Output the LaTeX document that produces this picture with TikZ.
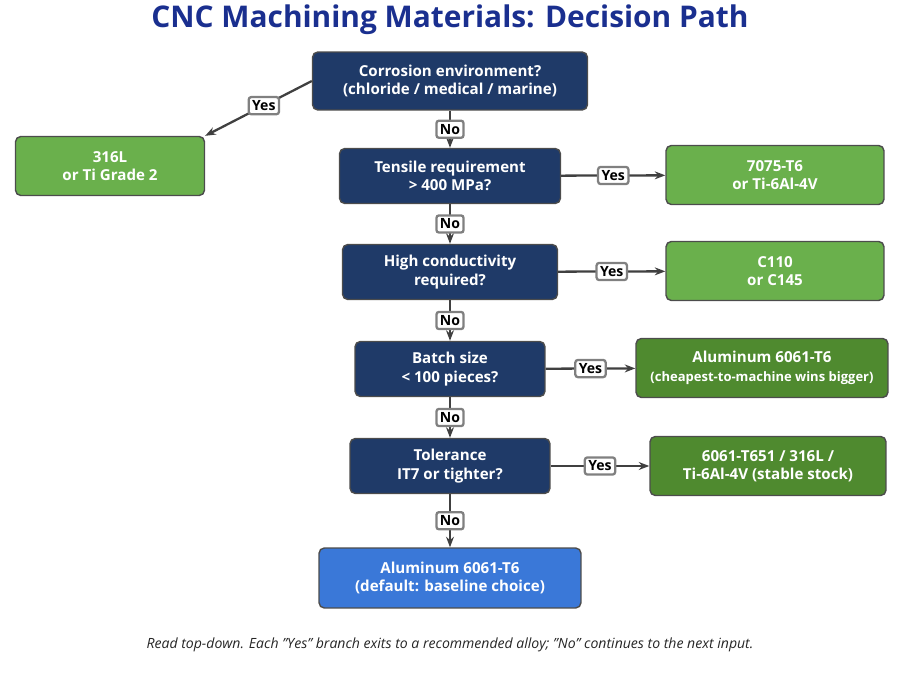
\documentclass[tikz,border=0pt]{standalone}
\usepackage{fontspec}
\setmainfont{Open Sans}
\usepackage{tikz}
\usetikzlibrary{positioning,arrows.meta}
\definecolor{navy}{HTML}{1F3A68}
\definecolor{titleblue}{HTML}{1A2F8F}
\definecolor{lightgreen}{HTML}{6AB04C}
\definecolor{darkgreen}{HTML}{4F8A2F}
\definecolor{defblue}{HTML}{3A78D8}

\begin{document}
\begin{tikzpicture}[x=0.02cm,y=-0.02cm,
    box/.style={draw=black!70, rounded corners=3pt, text=white, font=\fontsize{8.6}{10.5}\selectfont\bfseries, align=center, inner sep=2pt, line width=0.8pt},
    question/.style={box, fill=navy, minimum height=1.1cm},
    alloy/.style={box, fill=lightgreen, minimum height=1.18cm},
    alloyd/.style={box, fill=darkgreen, minimum height=1.18cm},
    tag/.style={draw=black!50, fill=white, rounded corners=1.5pt, font=\fontsize{8}{9}\selectfont\bfseries, inner sep=2pt},
    flow/.style={-{Stealth[length=6pt]}, line width=1.3pt, draw=black!75}]
    \useasboundingbox (0,0) rectangle (900,675);
    \node[font=\fontsize{17}{20}\selectfont\bfseries, text=titleblue] (title) at (450,20) {CNC Machining Materials: Decision Path};

    % decision column
    \node[question, minimum width=5.5cm, minimum height=1.16cm] (corr) at (450,81) {Corrosion environment?\\(chloride / medical / marine)};
    \node[question, minimum width=4.42cm] (tens) at (450,176) {Tensile requirement\\> 400 MPa?};
    \node[question, minimum width=4.3cm] (cond) at (450,272) {High conductivity\\required?};
    \node[question, minimum width=3.8cm] (batch) at (450,369) {Batch size\\< 100 pieces?};
    \node[question, minimum width=4cm] (tol) at (450,466) {Tolerance\\IT7 or tighter?};
    \node[box, fill=defblue, minimum width=5.24cm, minimum height=1.2cm] (dflt) at (450,578) {Aluminum 6061-T6\\(default: baseline choice)};

    % outcomes
    \node[alloy, minimum width=3.78cm] (ss) at (110,166) {316L\\or Ti Grade 2};
    \node[alloy, minimum width=4.36cm] (hs) at (775,175) {7075-T6\\or Ti-6Al-4V};
    \node[alloy, minimum width=4.36cm] (cu) at (775,271) {C110\\or C145};
    \node[alloyd, minimum width=5.04cm] (al) at (762,368) {Aluminum 6061-T6\\{\fontsize{7.4}{9}\selectfont(cheapest-to-machine wins bigger)}};
    \node[alloyd, minimum width=4.72cm] (stab) at (768,466) {6061-T651 / 316L /\\Ti-6Al-4V (stable stock)};

    % connectors
    \draw[flow] (corr.west) -- (ss.north east) node[tag, pos=0.45] {Yes};
    \foreach \a/\b in {corr/tens, tens/cond, cond/batch, batch/tol, tol/dflt}{
        \draw[flow] (\a) -- (\b) node[tag, midway] {No};
    }
    \foreach \a/\b in {tens/hs, cond/cu, batch/al, tol/stab}{
        \draw[flow] (\a) -- (\b) node[tag, midway] {Yes};
    }
    \foreach \n in {corr, tens, cond, batch, tol, dflt, ss, hs, cu, al, stab}{
        \node[at=(\n)] {}; % keep nodes above lines
    }

    \node[font=\fontsize{8}{10}\selectfont\itshape, text=black!85] (note) at (450,645) {Read top-down. Each "Yes" branch exits to a recommended alloy; "No" continues to the next input.};
\end{tikzpicture}
\end{document}
